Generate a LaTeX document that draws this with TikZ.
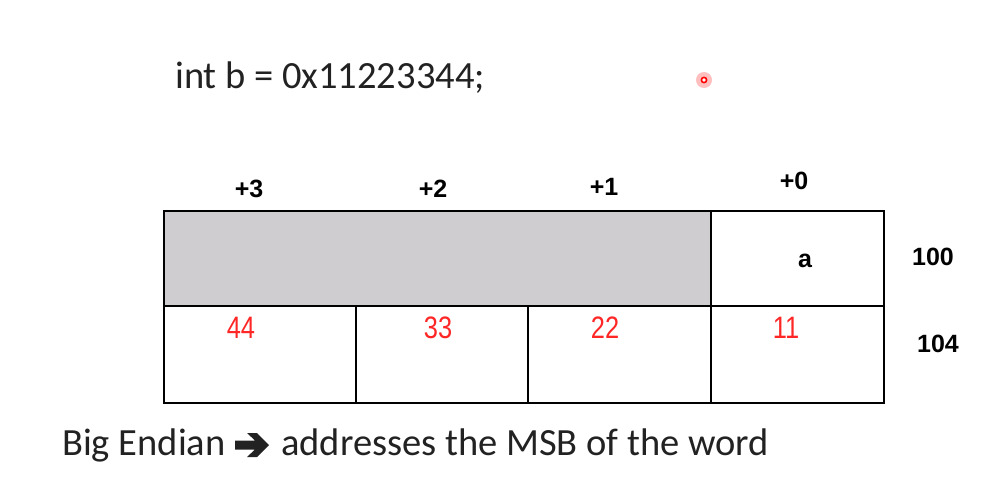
\documentclass[tikz,border=0pt]{standalone}
\usepackage{fontspec}
\setmainfont{Carlito}
\newfontfamily\arialf{Liberation Sans}
\newfontfamily\narrowf[FakeStretch=0.82]{Liberation Sans}
\definecolor{cellgray}{HTML}{CFCDD0}
\definecolor{numred}{HTML}{FF2626}
\definecolor{txtgray}{HTML}{222222}
\begin{document}
\begin{tikzpicture}[x=1pt,y=-1pt,
  hdr/.style={font=\arialf\bfseries\fontsize{25}{25}\selectfont, inner sep=0pt},
  val/.style={font=\narrowf\fontsize{31}{31}\selectfont, text=numred, inner sep=0pt},
  big/.style={font=\fontsize{38.5}{38.5}\selectfont, text=txtgray, inner sep=0pt, anchor=base west},
  cell/.style={draw=black, line width=1.2pt}]
\useasboundingbox (0,0) rectangle (995,482);
\fill[white] (0,0) rectangle (995,482);
% code line
\node[big] (code) at (175,88) {int b = 0x11223344;};
% laser pointer dot
\fill[red!25] (704,80) circle (8);
\draw[red, line width=1.6pt, fill=white] (704,80) circle (2.6);
% table
\fill[cellgray] (164,211) rectangle (711,306);
\draw[cell] (164,211) rectangle (884,403);
\draw[cell] (164,306) -- (884,306);
\draw[cell] (711,211) -- (711,403);
\draw[cell] (356,306) -- (356,403);
\draw[cell] (528,306) -- (528,403);
% headers
\node[hdr] (p3) at (249,189) {+3};
\node[hdr] (p2) at (433,189) {+2};
\node[hdr] (p1) at (604,187) {+1};
\node[hdr] (p0) at (794,181) {+0};
\node[hdr] (a) at (805,261) {a};
\node[hdr] (r100) at (933,257) {100};
\node[hdr] (r104) at (938,344) {104};
% values
\node[val] (v44) at (241,328) {44};
\node[val] (v33) at (438,328) {33};
\node[val] (v22) at (605,328) {22};
\node[val] (v11) at (786,328) {11};
% bottom line
\node[big] (note1) at (62,455) {Big Endian};
\fill[txtgray] (235,440.5) -- (255,440.5) -- (247,433) -- (257,433) -- (269,445)
  -- (257,457) -- (247,457) -- (255,449.5) -- (235,449.5) -- cycle;
\node[big] (note2) at (281,455) {addresses the MSB of the word};
\end{tikzpicture}
\end{document}
